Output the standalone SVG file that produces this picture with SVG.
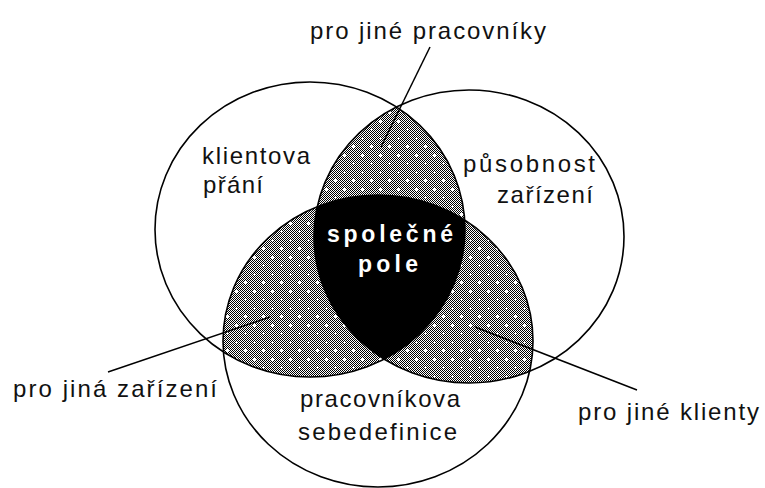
<svg xmlns="http://www.w3.org/2000/svg" width="765" height="488" viewBox="0 0 765 488">
<style>
.ring{fill:none;stroke:#000;stroke-width:1.6}
.lead{stroke:#000;stroke-width:1.5;fill:none}
.t{font-family:"Liberation Sans",Arial,sans-serif;font-size:24px;fill:#111}
.tb{font-family:"Liberation Sans",Arial,sans-serif;font-size:23px;font-weight:bold;fill:#fff}
</style>
<defs>
<pattern id="checker" width="2" height="2" patternUnits="userSpaceOnUse">
<rect width="2" height="2" fill="#fff"/>
<rect width="1" height="1" fill="#000"/>
<rect x="1" y="1" width="1" height="1" fill="#000"/>
</pattern>
<pattern id="dots" width="18" height="17" patternUnits="userSpaceOnUse">
<path d="M1 2h3v1h-3z M2 1h1v3h-1z M10 10h3v1h-3z M11 9h1v3h-1z" fill="#fff" shape-rendering="crispEdges"/>
</pattern>
<clipPath id="cA"><ellipse cx="310" cy="229.5" rx="155" ry="147.5"/></clipPath>
<clipPath id="cB"><ellipse cx="469" cy="236.5" rx="155" ry="146.5"/></clipPath>
<clipPath id="cC"><ellipse cx="378" cy="341" rx="155" ry="146"/></clipPath>
</defs>
<rect width="765" height="488" fill="#fff"/>
<g id="regions">
<g id="overlap-AB" clip-path="url(#cA)">
<ellipse cx="469" cy="236.5" rx="155" ry="146.5" fill="url(#checker)"/>
<ellipse cx="469" cy="236.5" rx="155" ry="146.5" fill="url(#dots)"/>
</g>
<g id="overlap-AC" clip-path="url(#cA)">
<ellipse cx="378" cy="341" rx="155" ry="146" fill="url(#checker)"/>
<ellipse cx="378" cy="341" rx="155" ry="146" fill="url(#dots)"/>
</g>
<g id="overlap-BC" clip-path="url(#cB)">
<ellipse cx="378" cy="341" rx="155" ry="146" fill="url(#checker)"/>
<ellipse cx="378" cy="341" rx="155" ry="146" fill="url(#dots)"/>
</g>
<g id="common" clip-path="url(#cA)">
<g clip-path="url(#cB)">
<ellipse cx="378" cy="341" rx="155" ry="146" fill="#000"/>
</g>
</g>
</g>
<g id="node-klient">
<ellipse class="ring" cx="310" cy="229.5" rx="155" ry="147.5"/>
<text class="t" x="202" y="164" textLength="108" lengthAdjust="spacing">klientova</text>
<text class="t" x="203" y="193" textLength="60" lengthAdjust="spacing">přání</text>
</g>
<g id="node-zarizeni">
<ellipse class="ring" cx="469" cy="236.5" rx="155" ry="146.5"/>
<text class="t" x="463" y="172" textLength="132" lengthAdjust="spacing">působnost</text>
<text class="t" x="497" y="203" textLength="96" lengthAdjust="spacing">zařízení</text>
</g>
<g id="node-pracovnik">
<ellipse class="ring" cx="378" cy="341" rx="155" ry="146"/>
<text class="t" x="300" y="407" textLength="160" lengthAdjust="spacing">pracovníkova</text>
<text class="t" x="298" y="440" textLength="159" lengthAdjust="spacing">sebedefinice</text>
</g>
<g id="connectors">
<line class="lead" x1="430" y1="47" x2="381" y2="147"/>
<line class="lead" x1="108" y1="372" x2="270" y2="317"/>
<line class="lead" x1="475" y1="327" x2="637" y2="390"/>
</g>
<g id="label-common">
<text class="tb" x="327" y="242" textLength="126" lengthAdjust="spacing">společné</text>
<text class="tb" x="358" y="272" textLength="60" lengthAdjust="spacing">pole</text>
</g>
<g id="label-pracovniky">
<text class="t" x="310" y="39" textLength="236" lengthAdjust="spacing">pro jiné pracovníky</text>
</g>
<g id="label-zarizeni">
<text class="t" x="13" y="397" textLength="204" lengthAdjust="spacing">pro jiná zařízení</text>
</g>
<g id="label-klienty">
<text class="t" x="578" y="420" textLength="181" lengthAdjust="spacing">pro jiné klienty</text>
</g>
</svg>
